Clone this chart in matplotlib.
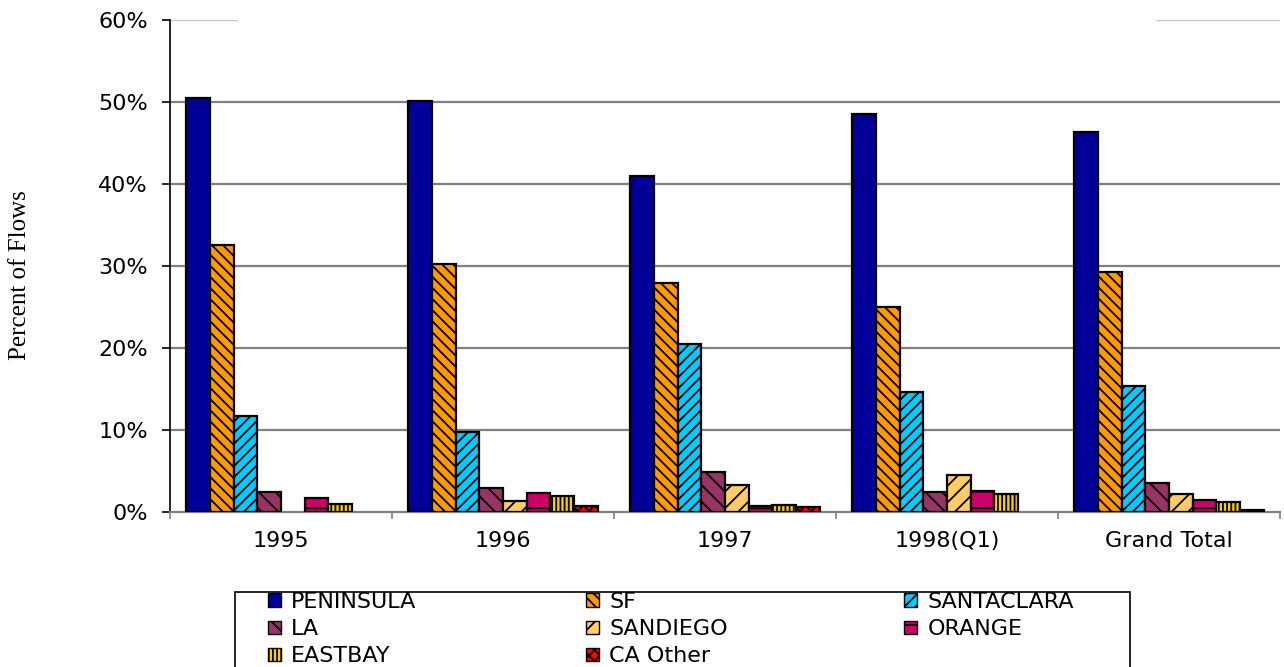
import matplotlib
matplotlib.use("Agg")
import matplotlib.pyplot as plt
import numpy as np
from matplotlib.patches import Patch, Rectangle

# Share of flows by destination region, per year
periods = ["1995", "1996", "1997", "1998(Q1)", "Grand Total"]
regions = ["PENINSULA", "SF", "SANTACLARA", "LA", "SANDIEGO", "ORANGE", "EASTBAY", "CA Other"]

peninsula = [50.5, 50.1, 41.0, 48.5, 46.3]
sf = [32.6, 30.2, 27.9, 25.0, 29.3]
santaclara = [11.7, 9.8, 20.5, 14.6, 15.4]
la = [2.4, 2.9, 4.9, 2.5, 3.5]
sandiego = [0.0, 1.3, 3.3, 4.5, 2.2]
orange = [1.7, 2.3, 0.7, 2.6, 1.5]
eastbay = [1.0, 2.0, 0.9, 2.2, 1.2]
ca_other = [0.0, 0.7, 0.6, 0.0, 0.3]

series = [peninsula, sf, santaclara, la, sandiego, orange, eastbay, ca_other]
colors = ["#000099", "#FF9900", "#00CCFF", "#993366", "#FFCC66", "#CC0066", "#FFCC00", "#FF0000"]
hatches = [None, "\\\\\\", "///", "\\\\", "//", "-", "||||", "xxx"]

plt.rcParams["hatch.linewidth"] = 1.3

W, H = 1284, 667
fig = plt.figure(figsize=(W / 100, H / 100), dpi=100)
ax = fig.add_axes([170 / W, 1 - 512 / H, 1110 / W, 492 / H])

n = len(series)
width = 0.1067
x = np.arange(len(periods)) + 0.5

# horizontal gridlines
for v in range(10, 60, 10):
    ax.axhline(v, color="#808080", lw=1.6, zorder=0)
ax.axhline(60, xmin=0, xmax=67 / 1110, color="#C0C0C0", lw=1.6, zorder=0)
ax.axhline(60, xmin=988 / 1110, xmax=1.0, color="#C0C0C0", lw=1.6, zorder=0)

for i, (vals, c, h) in enumerate(zip(series, colors, hatches)):
    lws = [1.6 if v > 0 else 0 for v in vals]
    ax.bar(x + (i - (n - 1) / 2) * width, vals, width=width, color=c,
           edgecolor="black", linewidth=lws, hatch=h, zorder=3)

ax.set_xlim(0, len(periods))
ax.set_ylim(0, 60)
ax.set_yticks(range(0, 61, 10))
ax.set_yticklabels([f"{v}%" for v in range(0, 61, 10)])

ax.set_xticks(np.arange(len(periods) + 1))
ax.set_xticklabels([])
ax.set_xticks(x, minor=True)
ax.set_xticklabels(periods, minor=True)
ax.tick_params(axis="x", which="minor", length=0, pad=14, labelsize=16)
ax.tick_params(axis="x", which="major", length=5, color="#808080", width=1.2, direction="out")
ax.tick_params(axis="y", length=6, width=1.2, labelsize=16, pad=10)

for s in ["top", "right"]:
    ax.spines[s].set_visible(False)
ax.spines["left"].set_color("black")
ax.spines["left"].set_linewidth(1.2)
ax.spines["bottom"].set_color("#808080")
ax.spines["bottom"].set_linewidth(1.6)

fig.text(20 / W, 1 - 275 / H, "Percent of Flows", rotation=90, va="center", ha="center",
         family="Liberation Serif", fontsize=18)

# legend: three columns filled row by row, inside one box
handles = [Patch(facecolor=c, edgecolor="black", hatch=h, linewidth=1.0)
           for c, h in zip(colors, hatches)]
col_x = [268, 586, 904]
for k, cx in enumerate(col_x):
    idx = list(range(k, len(regions), 3))
    fig.legend([handles[j] for j in idx], [regions[j] for j in idx],
               loc="upper left", bbox_to_anchor=(cx / W, 1 - 592 / H),
               fontsize=16, frameon=False, handlelength=0.6,
               handleheight=0.55, handletextpad=0.45, labelspacing=0.32,
               borderpad=0, borderaxespad=0)
fig.add_artist(Rectangle((235 / W, -0.05), (1130 - 235) / W, 0.05 + (H - 592) / H,
                         transform=fig.transFigure, facecolor="none",
                         edgecolor="black", linewidth=1.2))

fig.savefig("out.png", dpi=100)
